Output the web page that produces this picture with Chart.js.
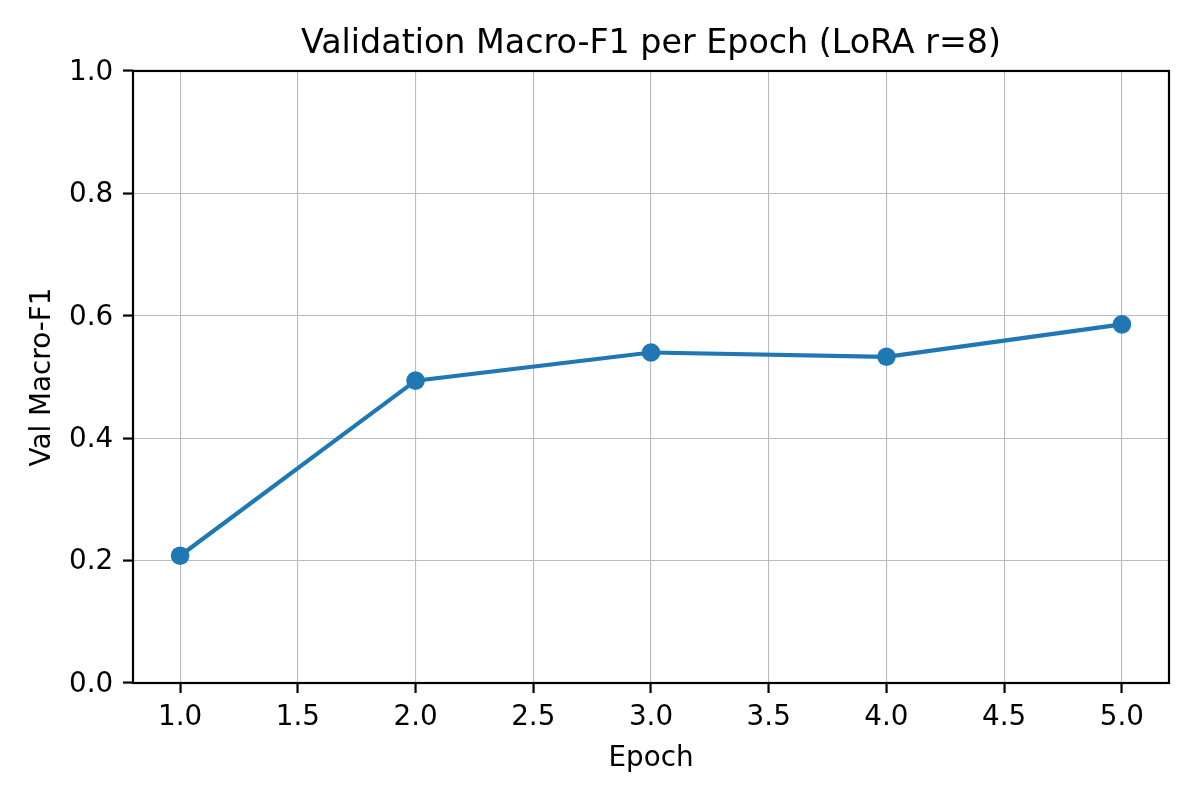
<!DOCTYPE html>
<html>
<head>
<meta charset="utf-8">
<script src="https://cdn.jsdelivr.net/npm/chart.js@4/dist/chart.umd.min.js"></script>
<style>
  html, body { margin: 0; padding: 0; background: #fff; }
  #wrap { width: 1200px; height: 800px; }
</style>
</head>
<body>
<div id="wrap"><canvas id="f1Chart" width="1200" height="800"></canvas></div>
<script>
// values
const epochs = [1, 2, 3, 4, 5];
const valMacroF1 = [0.208, 0.494, 0.540, 0.533, 0.586];
const xTicks = [1.0, 1.5, 2.0, 2.5, 3.0, 3.5, 4.0, 4.5, 5.0];
const yTicks = [0.0, 0.2, 0.4, 0.6, 0.8, 1.0];

const FONT = "'DejaVu Sans', sans-serif";
const BLUE = '#1f77b4';

// box around the axes (matplotlib spines)
const frame = {
  id: 'frame',
  afterDatasetsDraw(chart) {
    const a = chart.chartArea;
    const ctx = chart.ctx;
    ctx.save();
    ctx.strokeStyle = '#000';
    ctx.lineWidth = 2.2;
    ctx.strokeRect(a.left, a.top, a.right - a.left, a.bottom - a.top);
    ctx.restore();
  }
};

const f1_config = {
  type: 'line',
  data: {
    datasets: [{
      label: 'Val Macro-F1',
      data: epochs.map((e, i) => ({ x: e, y: valMacroF1[i] })),
      borderColor: BLUE,
      backgroundColor: BLUE,
      borderWidth: 4.2,
      pointRadius: 9.3,
      pointBorderWidth: 0,
      pointBackgroundColor: BLUE,
      tension: 0,
      fill: false
    }]
  },
  options: {
    responsive: false,
    devicePixelRatio: 1,
    animation: false,
    layout: { padding: { left: 0, right: 31, top: 0, bottom: 0 } },
    plugins: {
      legend: { display: false },
      tooltip: { enabled: false },
      title: {
        display: true,
        fullSize: false,
        text: 'Validation Macro-F1 per Epoch (LoRA r=8)',
        color: '#000',
        font: { family: FONT, size: 33.3, weight: 'normal' },
        padding: { top: 24.4, bottom: 6.6 }
      }
    },
    scales: {
      x: {
        type: 'linear',
        min: 0.8,
        max: 5.2,
        afterBuildTicks: (scale) => { scale.ticks = xTicks.map(v => ({ value: v })); },
        afterFit: (scale) => { scale.height = 117; },
        ticks: {
          color: '#000',
          font: { family: FONT, size: 27.8 },
          padding: 8,
          maxRotation: 0,
          callback: (v) => Number(v).toFixed(1)
        },
        grid: {
          color: '#bbbbbb',
          lineWidth: 1.1,
          drawTicks: true,
          tickLength: 10,
          tickColor: '#000',
          tickWidth: 2.2
        },
        border: { display: false },
        title: {
          display: true,
          text: 'Epoch',
          color: '#000',
          font: { family: FONT, size: 27.8 },
          padding: { top: 0, bottom: 25 }
        }
      },
      y: {
        min: 0,
        max: 1,
        afterBuildTicks: (scale) => { scale.ticks = yTicks.map(v => ({ value: v })); },
        afterFit: (scale) => { scale.width = 133; },
        ticks: {
          color: '#000',
          font: { family: FONT, size: 27.8 },
          padding: 9.7,
          labelOffset: 1.5,
          callback: (v) => Number(v).toFixed(1)
        },
        grid: {
          color: '#bbbbbb',
          lineWidth: 1.1,
          drawTicks: true,
          tickLength: 10,
          tickColor: '#000',
          tickWidth: 2.2
        },
        border: { display: false },
        title: {
          display: true,
          text: 'Val Macro-F1',
          color: '#000',
          font: { family: FONT, size: 27.8 },
          padding: { top: 26.3, bottom: 0 }
        }
      }
    }
  },
  plugins: [frame]
};

const f1_chart = new Chart(
  document.getElementById('f1Chart'),
  f1_config
);
</script>
</body>
</html>
